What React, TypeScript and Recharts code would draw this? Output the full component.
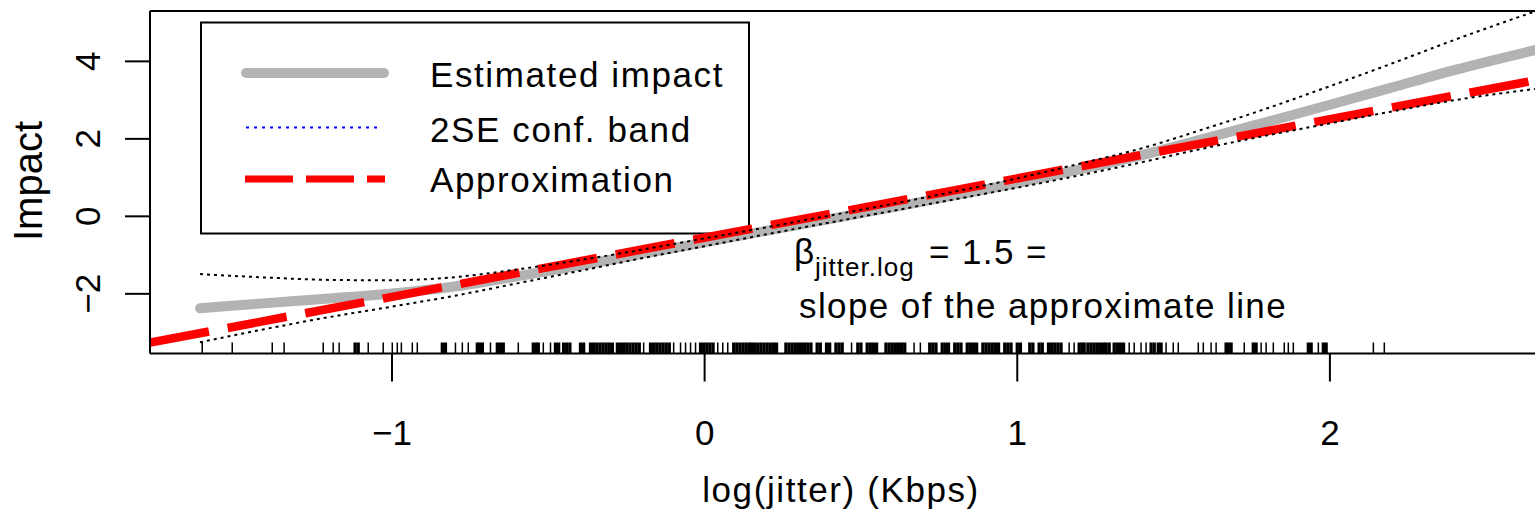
import React from "react";
import {
  ComposedChart,
  Line,
  Scatter,
  XAxis,
  YAxis,
  ReferenceLine,
  Customized,
} from "recharts";

const FONT = '"Liberation Sans", Arial, Helvetica, sans-serif';

// axis ranges and ticks
const X_DOMAIN = [-1.774, 2.656];
const Y_DOMAIN = [-3.54, 5.3];
const xTicks = [-1, 0, 1, 2];
const yTicks = [-2, 0, 2, 4];

// estimated impact (smooth fit) and its 2SE band
const fitX = [-1.614, -1.4, -1.2, -1.0, -0.8, -0.6, -0.4, -0.2, 0, 0.2, 0.4, 0.6, 0.8, 1.0, 1.2, 1.4, 1.6, 1.8, 2.0, 2.2, 2.4, 2.656];
const fitY = [-2.37, -2.24, -2.12, -1.99, -1.81, -1.55, -1.27, -0.97, -0.67, -0.37, -0.07, 0.23, 0.54, 0.86, 1.21, 1.58, 2.01, 2.44, 2.88, 3.33, 3.78, 4.29];
const upperY = [-1.49, -1.58, -1.64, -1.65, -1.57, -1.37, -1.13, -0.86, -0.57, -0.28, 0.02, 0.32, 0.64, 0.98, 1.36, 1.76, 2.26, 2.79, 3.36, 3.95, 4.56, 5.29];
const lowerY = [-3.25, -2.9, -2.6, -2.33, -2.05, -1.73, -1.41, -1.08, -0.77, -0.46, -0.16, 0.14, 0.44, 0.74, 1.06, 1.4, 1.76, 2.09, 2.4, 2.71, 3.0, 3.29];

// linear approximation (slope 1.5)
const approxX = [-1.774, 2.656];
const approxY = [-3.26, 3.51];

// rug of observed log(jitter) values
const rugX = [
  -1.607, -1.511, -1.383, -1.345, -1.22, -1.188, -1.169, -1.118, -1.108, -1.076, -1.028, -0.999, -0.983, -0.97, -0.935, -0.919, -0.839, -0.829,
  -0.797, -0.775, -0.756, -0.727, -0.72, -0.711, -0.685, -0.663, -0.653, -0.644, -0.596, -0.548, -0.538, -0.532, -0.516, -0.493, -0.477, -0.467,
  -0.451, -0.441, -0.431, -0.397, -0.387, -0.365, -0.355, -0.345, -0.335, -0.325, -0.315, -0.305, -0.295, -0.279, -0.269, -0.259, -0.249, -0.239,
  -0.229, -0.219, -0.209, -0.195, -0.173, -0.163, -0.153, -0.143, -0.133, -0.123, -0.113, -0.099, -0.077, -0.061, -0.045, -0.029, -0.013, -0.003,
  0.007, 0.017, 0.027, 0.042, 0.058, 0.074, 0.093, 0.103, 0.113, 0.123, 0.133, 0.143,
  0.15, 0.16, 0.17, 0.18, 0.19, 0.2, 0.21, 0.22, 0.23, 0.26, 0.27, 0.28, 0.29, 0.3, 0.31, 0.32, 0.33, 0.34, 0.36, 0.37, 0.39, 0.4, 0.42, 0.43,
  0.44, 0.47, 0.49, 0.5, 0.52, 0.53, 0.54, 0.55, 0.58, 0.59, 0.6, 0.61, 0.62, 0.63, 0.64, 0.67, 0.69, 0.72, 0.73, 0.74, 0.76, 0.77, 0.78, 0.8,
  0.81, 0.82, 0.84, 0.85, 0.86, 0.87, 0.89, 0.9, 0.91, 0.92, 0.93, 0.94, 0.96, 0.97, 0.98, 1.0, 1.01, 1.04, 1.05, 1.07, 1.08, 1.1,
  1.11, 1.12, 1.13, 1.14, 1.166, 1.182, 1.198, 1.207, 1.214, 1.226, 1.236, 1.246, 1.256, 1.266, 1.276, 1.284, 1.294, 1.31, 1.32, 1.33, 1.34,
  1.358, 1.374, 1.396, 1.412, 1.428, 1.438, 1.451, 1.46, 1.476, 1.499, 1.515, 1.579, 1.595, 1.62, 1.636, 1.668, 1.675, 1.684, 1.726, 1.755,
  1.764, 1.78, 1.796, 1.819, 1.854, 1.867, 1.883, 1.931, 1.94, 1.963, 1.979, 1.988, 2.139, 2.174,
];

const legendLabels = ["Estimated impact", "2SE conf. band", "Approximation"];

const fitData = fitX.map((x, i) => ({ x, y: fitY[i] }));
const upperData = fitX.map((x, i) => ({ x, y: upperY[i] }));
const lowerData = fitX.map((x, i) => ({ x, y: lowerY[i] }));
const approxData = approxX.map((x, i) => ({ x, y: approxY[i] }));
// marks with a close neighbour merge into a solid black block, as in the original rug
const rugData = rugX.map((x, i) => {
  const prev = i > 0 ? x - rugX[i - 1] : 1;
  const next = i < rugX.length - 1 ? rugX[i + 1] - x : 1;
  return { x, y: Y_DOMAIN[0], dense: Math.min(prev, next) < 0.0115 };
});

const fmt = (v: number) => (v < 0 ? "\u2212" + Math.abs(v) : String(v));

const XTick = ({ x, payload }: any) => (
  <text x={x} y={445} textAnchor="middle" fontSize={35} fontFamily={FONT} fill="#000">
    {fmt(payload.value)}
  </text>
);

const YTick = ({ y, payload }: any) => (
  <text
    x={100}
    y={y}
    transform={`rotate(-90 100 ${y})`}
    textAnchor="middle"
    fontSize={35}
    fontFamily={FONT}
    fill="#000"
  >
    {fmt(payload.value)}
  </text>
);

const RugMark = (p: any) => (
  <line
    x1={p.cx}
    x2={p.cx}
    y1={p.cy}
    y2={p.cy - 11}
    stroke="#000"
    strokeWidth={p.payload && p.payload.dense ? 3.3 : 1.5}
  />
);

// legend box, axis titles and the annotation
const Decorations = () => (
  <g fontFamily={FONT} fill="#000">
    <rect x={201} y={22.5} width={548} height={211} fill="none" stroke="#000" strokeWidth={2} />
    <line x1={246} x2={384} y1={73} y2={73} stroke="#b3b3b3" strokeWidth={10} strokeLinecap="round" />
    <line x1={246} x2={380} y1={127.5} y2={127.5} stroke="#0000ff" strokeWidth={2} strokeDasharray="3 5" />
    <line x1={245} x2={385} y1={179} y2={179} stroke="#ff0000" strokeWidth={7} strokeDasharray="48 13" />
    {legendLabels.map((t, i) => (
      <text key={t} x={430} y={[86.5, 141.5, 191.5][i]} fontSize={35} letterSpacing={1.6}>
        {t}
      </text>
    ))}
    <text x={42} y={181} transform="rotate(-90 42 181)" textAnchor="middle" fontSize={40}>
      Impact
    </text>
    <text x={841} y={502} textAnchor="middle" fontSize={35} letterSpacing={1.6}>
      log(jitter) (Kbps)
    </text>
    <text fontSize={35}>
      <tspan x={794} y={264}>β</tspan>
      <tspan x={815} y={276} fontSize={26} letterSpacing={1}>jitter.log</tspan>
      <tspan x={929} y={264} letterSpacing={1.4}>= 1.5 =</tspan>
    </text>
    <text x={799} y={318} fontSize={35} letterSpacing={1.4}>
      slope of the approximate line
    </text>
  </g>
);

export default function App() {
  return (
    <div
      style={{
        position: "absolute",
        left: 0,
        top: 0,
        width: 1535,
        height: 512,
        overflow: "hidden",
        background: "#fff",
      }}
    >
      <ComposedChart width={1535} height={512} margin={{ top: 11, right: 0, bottom: 0, left: 0 }}>
        <XAxis
          dataKey="x"
          type="number"
          domain={X_DOMAIN}
          ticks={xTicks}
          interval={0}
          allowDataOverflow
          height={158.5}
          tickSize={28}
          axisLine={{ stroke: "#000", strokeWidth: 2 }}
          tickLine={{ stroke: "#000", strokeWidth: 2 }}
          tick={XTick}
        />
        <YAxis
          type="number"
          domain={Y_DOMAIN}
          ticks={yTicks}
          interval={0}
          allowDataOverflow
          width={150}
          tickSize={25}
          axisLine={{ stroke: "#000", strokeWidth: 2 }}
          tickLine={{ stroke: "#000", strokeWidth: 2 }}
          tick={YTick}
        />
        <ReferenceLine y={Y_DOMAIN[1]} stroke="#000" strokeWidth={2} ifOverflow="visible" />
        <Line
          data={fitData}
          dataKey="y"
          type="monotone"
          stroke="#b3b3b3"
          strokeWidth={10}
          strokeLinecap="round"
          dot={false}
          activeDot={false}
          isAnimationActive={false}
        />
        <Line
          data={approxData}
          dataKey="y"
          type="linear"
          stroke="#ff0000"
          strokeWidth={8.5}
          strokeDasharray="60 19"
          dot={false}
          activeDot={false}
          isAnimationActive={false}
        />
        <Line
          data={upperData}
          dataKey="y"
          type="monotone"
          stroke="#000"
          strokeWidth={2}
          strokeDasharray="3 4"
          dot={false}
          activeDot={false}
          isAnimationActive={false}
        />
        <Line
          data={lowerData}
          dataKey="y"
          type="monotone"
          stroke="#000"
          strokeWidth={2}
          strokeDasharray="3 4"
          dot={false}
          activeDot={false}
          isAnimationActive={false}
        />
        <Scatter data={rugData} dataKey="y" shape={RugMark} isAnimationActive={false} />
        <Customized component={Decorations} />
      </ComposedChart>
    </div>
  );
}
